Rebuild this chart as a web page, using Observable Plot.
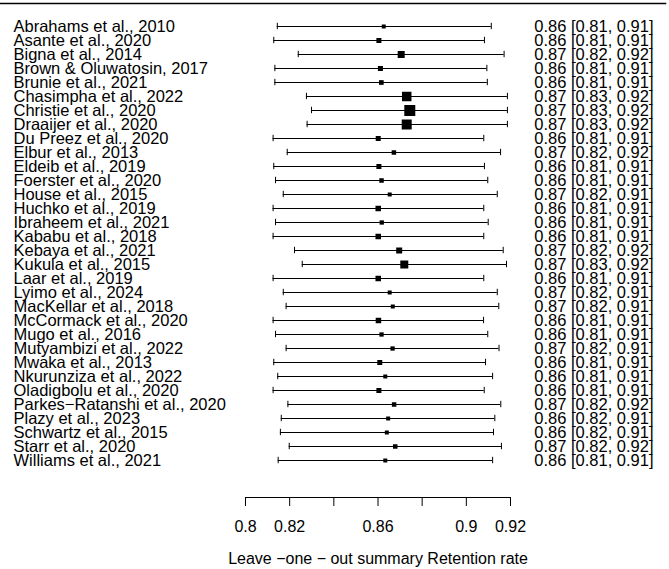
<!DOCTYPE html>
<html>
<head>
<meta charset="utf-8">
<script src="https://cdn.jsdelivr.net/npm/d3@7"></script>
<script src="https://cdn.jsdelivr.net/npm/@observablehq/plot@0.6"></script>
<style>
  html, body { margin: 0; padding: 0; background: #fff; }
  #chart svg { display: block; }
</style>
</head>
<body>
<div id="chart"></div>
<script>
// Leave-one-out sensitivity analysis: pooled retention rate with each study omitted
const studies = [
  "Abrahams et al., 2010",
  "Asante et al., 2020",
  "Bigna et al., 2014",
  "Brown & Oluwatosin, 2017",
  "Brunie et al., 2021",
  "Chasimpha et al., 2022",
  "Christie et al., 2020",
  "Draaijer et al., 2020",
  "Du Preez et al., 2020",
  "Elbur et al., 2013",
  "Eldeib et al., 2019",
  "Foerster et al., 2020",
  "House et al., 2015",
  "Huchko et al., 2019",
  "Ibraheem et al., 2021",
  "Kababu et al., 2018",
  "Kebaya et al., 2021",
  "Kukula et al., 2015",
  "Laar et al., 2019",
  "Lyimo et al., 2024",
  "MacKellar et al., 2018",
  "McCormack et al., 2020",
  "Mugo et al., 2016",
  "Mutyambizi et al., 2022",
  "Mwaka et al., 2013",
  "Nkurunziza et al., 2022",
  "Oladigbolu et al., 2020",
  "Parkes\u2212Ratanshi et al., 2020",
  "Plazy et al., 2023",
  "Schwartz et al., 2015",
  "Starr et al., 2020",
  "Williams et al., 2021"
];

// summary estimate with the study left out
const estimate = [
  0.8626, 0.8604, 0.8705, 0.8611, 0.8615, 0.8730, 0.8744, 0.8730,
  0.8601, 0.8672, 0.8604, 0.8616, 0.8653, 0.8601, 0.8617, 0.8601,
  0.8696, 0.8719, 0.8601, 0.8653, 0.8667, 0.8602, 0.8616, 0.8666,
  0.8608, 0.8633, 0.8604, 0.8673, 0.8646, 0.8640, 0.8678, 0.8633
];

// 95% confidence limits
const lower = [
  0.8144, 0.8128, 0.8239, 0.8133, 0.8133, 0.8276, 0.8299, 0.8279,
  0.8125, 0.8189, 0.8128, 0.8136, 0.8171, 0.8125, 0.8136, 0.8125,
  0.8222, 0.8257, 0.8125, 0.8171, 0.8184, 0.8125, 0.8136, 0.8184,
  0.8128, 0.8146, 0.8125, 0.8192, 0.8162, 0.8158, 0.8198, 0.8148
];
const upper = [
  0.9113, 0.9082, 0.9171, 0.9093, 0.9095, 0.9186, 0.9186, 0.9186,
  0.9079, 0.9155, 0.9082, 0.9097, 0.9140, 0.9079, 0.9099, 0.9079,
  0.9167, 0.9182, 0.9079, 0.9140, 0.9147, 0.9078, 0.9097, 0.9148,
  0.9087, 0.9119, 0.9081, 0.9156, 0.9129, 0.9123, 0.9159, 0.9119
];

// relative weight, shown as the size of each square
const weight = [
  4.0, 5.0, 7.0, 5.0, 4.7, 9.5, 11.0, 10.0,
  5.0, 4.5, 5.0, 4.5, 4.0, 5.5, 4.3, 5.5,
  6.0, 8.0, 5.5, 4.0, 4.0, 5.5, 4.3, 4.3,
  5.0, 4.0, 5.0, 4.5, 4.0, 4.0, 4.5, 4.0
];

// x-axis ticks and the labels printed under them
const xTicks = [0.80, 0.82, 0.84, 0.86, 0.88, 0.90, 0.92];
const xTickLabels = ["0.8", "0.82", "", "0.86", "", "0.9", "0.92"];
const xTitle = "Leave \u2212one \u2212 out summary Retention rate";

const rows = studies.map((study, i) => ({
  study,
  est: estimate[i],
  lo: lower[i],
  hi: upper[i],
  w: weight[i],
  label: `${estimate[i].toFixed(2)} [${lower[i].toFixed(2)}, ${upper[i].toFixed(2)}]`
}));

const font = "'Liberation Sans', Arial, Helvetica, sans-serif";
const fs = 16.5;
const capInset = 3.8; // trims the interval end caps inside each row band

const chart = Plot.plot({
  width: 669,
  height: 569,
  marginLeft: 245,
  marginRight: 159,
  marginTop: 3,
  marginBottom: 72,
  style: { fontFamily: font, fontSize: fs + "px", background: "#fff", color: "#000" },
  x: { domain: [0.8, 0.92], axis: null },
  y: { type: "band", domain: studies, padding: 0, insetTop: 6.7, insetBottom: 20.7, axis: null },
  r: { type: "linear", domain: [0, 11], range: [0, 6.2] },
  marks: [
    // rule across the top of the table
    Plot.frame({ anchor: "top", insetLeft: -245, insetRight: -155, strokeWidth: 1.6 }),
    // confidence intervals with end caps
    Plot.ruleY(rows, { y: "study", x1: "lo", x2: "hi", stroke: "#000", strokeWidth: 1 }),
    Plot.tickX(rows, { y: "study", x: "lo", stroke: "#000", strokeWidth: 1, insetTop: capInset, insetBottom: capInset }),
    Plot.tickX(rows, { y: "study", x: "hi", stroke: "#000", strokeWidth: 1, insetTop: capInset, insetBottom: capInset }),
    // point estimates
    Plot.dot(rows, { y: "study", x: "est", r: "w", symbol: "square", fill: "#000", stroke: null }),
    // study names on the left
    Plot.text(rows, {
      y: "study", text: "study", frameAnchor: "left", textAnchor: "start",
      dx: -232, fontSize: fs, fill: "#000"
    }),
    // estimate and interval on the right
    Plot.text(rows, {
      y: "study", text: "label", frameAnchor: "right", textAnchor: "end",
      dx: 143, fontSize: fs, fill: "#000"
    }),
    // x axis
    Plot.frame({ anchor: "bottom", strokeWidth: 1 }),
    Plot.axisX(xTicks, {
      anchor: "bottom", tickSize: 9, tickPadding: 14, label: null,
      tickFormat: (d, i) => xTickLabels[i], fontSize: 16, stroke: "#000"
    }),
    Plot.text([xTitle], {
      text: d => d, frameAnchor: "bottom", lineAnchor: "top", dy: 55, fontSize: 16, fill: "#000"
    })
  ]
});

document.getElementById("chart").appendChild(chart);
</script>
</body>
</html>
